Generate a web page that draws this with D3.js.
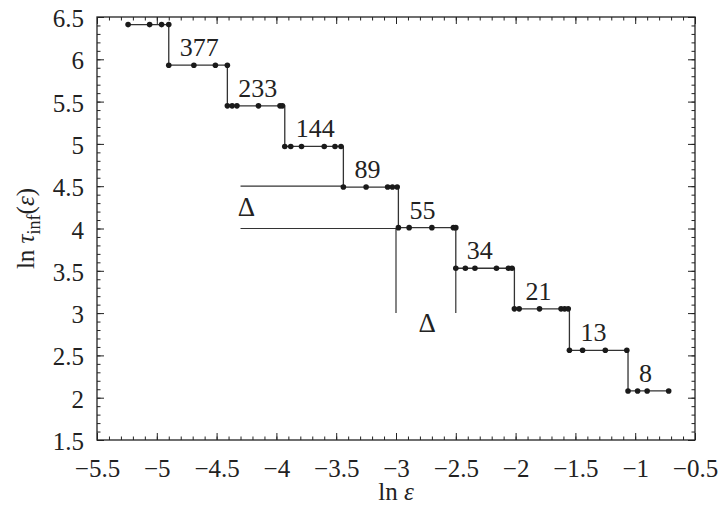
<!DOCTYPE html>
<html>
<head>
<meta charset="utf-8">
<script src="https://cdn.jsdelivr.net/npm/d3@7"></script>
<style>
  body { margin: 0; background: #fff; }
  svg text { font-family: "Liberation Serif", "Times New Roman", Times, "DejaVu Serif", serif; fill: #222; }
</style>
</head>
<body>
<div id="chart"></div>
<script>
// step levels (ln tau) and the epsilon positions of the dots on each step
const levels = [6.41, 5.93, 5.45, 4.97, 4.49, 4.01, 3.53, 3.05, 2.56, 2.08];
const stepX = [
    [-5.24, -5.06, -4.96, -4.90],
    [-4.90, -4.69, -4.51, -4.41],
    [-4.41, -4.37, -4.33, -4.15, -3.97, -3.95],
    [-3.93, -3.88, -3.79, -3.60, -3.51, -3.46],
    [-3.44, -3.25, -3.07, -3.03, -2.99],
    [-2.98, -2.89, -2.70, -2.52, -2.50],
    [-2.50, -2.42, -2.34, -2.16, -2.06, -2.03],
    [-2.01, -1.97, -1.80, -1.62, -1.59, -1.56],
    [-1.55, -1.44, -1.25, -1.07],
    [-1.06, -0.98, -0.90, -0.72]
];
const stepLabels = [null, "377", "233", "144", "89", "55", "34", "21", "13", "8"];

// Delta construction
const refLevels = [4.5, 4.0];
const refStart = -4.3;
const refEnd = [-3.44, -3.0];
const refVerticals = [{ x: -3.0, y0: 4.0, y1: 3.0 }, { x: -2.5, y0: 3.53, y1: 3.0 }];
const deltaMarks = [{ x: -4.25, y: 4.15 }, { x: -2.74, y: 2.78 }];

const xTicks = [-5.5, -5, -4.5, -4, -3.5, -3, -2.5, -2, -1.5, -1, -0.5];
const yTicks = [1.5, 2, 2.5, 3, 3.5, 4, 4.5, 5, 5.5, 6, 6.5];

const width = 721, height = 507;
const margin = { top: 17, right: 26, bottom: 67, left: 97 };
const innerWidth = width - margin.left - margin.right;
const innerHeight = height - margin.top - margin.bottom;

const svg = d3.select("#chart").append("svg")
    .attr("width", width).attr("height", height);
const g = svg.append("g").attr("transform", `translate(${margin.left},${margin.top})`);

const x = d3.scaleLinear().domain([-5.5, -0.5]).range([0, innerWidth]);
const y = d3.scaleLinear().domain([1.5, 6.5]).range([innerHeight, 0]);

const fmt = d3.format("~g");
const xMinor = d3.range(-5.5, -0.49, 0.1);
const yMinor = d3.range(1.5, 6.51, 0.1);

const addAxis = (axis, transform, labels) => {
    const a = g.append("g").attr("transform", transform).call(axis);
    a.select(".domain").remove();
    a.attr("font-family", null);
    a.selectAll("line").attr("stroke", "#222").attr("stroke-width", 1);
    if (labels) a.selectAll("text").style("font-size", "25px").attr("fill", "#222");
    else a.selectAll("text").remove();
    return a;
};

// minor ticks, all four sides
addAxis(d3.axisBottom(x).tickValues(xMinor).tickSize(-3.5), `translate(0,${innerHeight})`, false);
addAxis(d3.axisTop(x).tickValues(xMinor).tickSize(-3.5), "translate(0,0)", false);
addAxis(d3.axisLeft(y).tickValues(yMinor).tickSize(-3.5), "translate(0,0)", false);
addAxis(d3.axisRight(y).tickValues(yMinor).tickSize(-3.5), `translate(${innerWidth},0)`, false);

// major ticks
const xb = addAxis(d3.axisBottom(x).tickValues(xTicks).tickSize(-7).tickPadding(23).tickFormat(fmt), `translate(0,${innerHeight})`, true);
addAxis(d3.axisTop(x).tickValues(xTicks).tickSize(-7), "translate(0,0)", false);
const yl = addAxis(d3.axisLeft(y).tickValues(yTicks).tickSize(-7).tickPadding(13).tickFormat(fmt), "translate(0,0)", true);
addAxis(d3.axisRight(y).tickValues(yTicks).tickSize(-7), `translate(${innerWidth},0)`, false);

xb.selectAll("text").attr("dy", "0.55em");
yl.selectAll("text").attr("dy", "0.38em");

// frame
g.append("rect")
    .attr("width", innerWidth).attr("height", innerHeight)
    .attr("fill", "none").attr("stroke", "#222").attr("stroke-width", 1.3);

// reference lines
g.selectAll(".ref-h")
    .data(refLevels)
    .join("line")
    .attr("class", "ref-h")
    .attr("x1", x(refStart))
    .attr("x2", (d, i) => x(refEnd[i]))
    .attr("y1", d => y(d)).attr("y2", d => y(d))
    .attr("stroke", "#333").attr("stroke-width", 1.2);

g.selectAll(".ref-v")
    .data(refVerticals)
    .join("line")
    .attr("class", "ref-v")
    .attr("x1", d => x(d.x)).attr("x2", d => x(d.x))
    .attr("y1", d => y(d.y0)).attr("y2", d => y(d.y1))
    .attr("stroke", "#333").attr("stroke-width", 1.2);

g.selectAll(".delta")
    .data(deltaMarks)
    .join("text")
    .attr("class", "delta")
    .attr("x", d => x(d.x)).attr("y", d => y(d.y))
    .attr("text-anchor", "middle")
    .style("font-size", "27px")
    .text("Δ");

// step curve
const points = levels.flatMap((lv, i) => stepX[i].map(e => ({ x: e, y: lv })));

g.append("path")
    .datum(points)
    .attr("fill", "none")
    .attr("stroke", "#333")
    .attr("stroke-width", 1.3)
    .attr("d", d3.line().x(d => x(d.x)).y(d => y(d.y)).curve(d3.curveStepAfter));

g.selectAll(".dot")
    .data(points)
    .join("circle")
    .attr("class", "dot")
    .attr("cx", d => x(d.x)).attr("cy", d => y(d.y))
    .attr("r", 2.8)
    .attr("fill", "#1a1a1a");

// step labels, sitting above the left end of each step
g.selectAll(".step-label")
    .data(levels.map((lv, i) => ({ lv, x0: stepX[i][0], label: stepLabels[i] })).filter(d => d.label))
    .join("text")
    .attr("class", "step-label")
    .attr("x", d => x(d.x0) + 11)
    .attr("y", d => y(d.lv) - 9)
    .style("font-size", "26px")
    .text(d => d.label);

// axis titles
svg.append("text")
    .attr("x", margin.left + innerWidth / 2)
    .attr("y", 500)
    .attr("text-anchor", "middle")
    .style("font-size", "25px")
    .html('ln <tspan font-style="italic">ε</tspan>');

svg.append("text")
    .attr("transform", `translate(34,${margin.top + innerHeight / 2}) rotate(-90)`)
    .attr("text-anchor", "middle")
    .style("font-size", "25px")
    .html('ln <tspan font-style="italic">τ</tspan><tspan dy="6" font-size="18px">inf</tspan><tspan dy="-6">(</tspan><tspan font-style="italic">ε</tspan>)');
</script>
</body>
</html>
